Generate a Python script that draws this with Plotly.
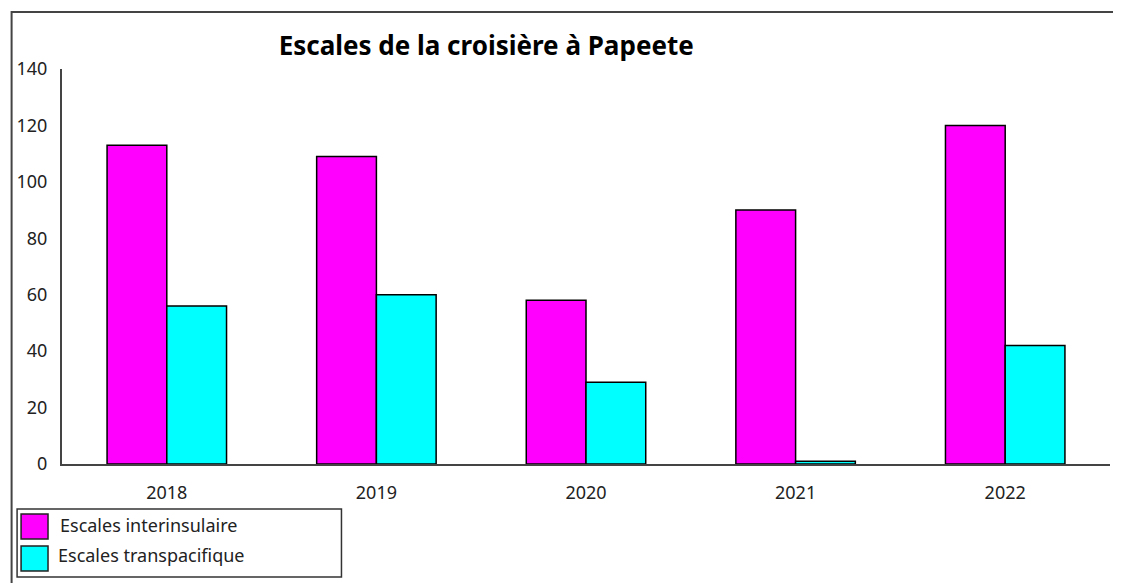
import plotly.graph_objects as go

years = ["2018", "2019", "2020", "2021", "2022"]
interinsulaire = [113, 109, 58, 90, 120]
transpacifique = [56, 60, 29, 1, 42]
series_names = ["Escales interinsulaire", "Escales transpacifique"]
y_ticks = [0, 20, 40, 60, 80, 100, 120, 140]
title_text = "Escales de la croisière à Papeete"

# page body has a margin: the figure is drawn shifted right and down
OFFX, OFFY = 10, 8
W, H = 1121 - OFFX, 583 - OFFY
L, T = 62 - OFFX, 69 - OFFY
R = W - (1112 - OFFX)
B = H - (464 - OFFY)
PW, PH = W - L - R, H - T - B


def px(x):
    return (x - OFFX - L) / PW


def py(y):
    return (H - B - (y - OFFY)) / PH


MAG = "#FF00FF"
CYA = "#00FFFF"
FONT = "Noto Sans"

fig = go.Figure()
fig.add_trace(go.Bar(x=years, y=interinsulaire, name=series_names[0],
                     marker=dict(color=MAG, line=dict(color="black", width=1.5)),
                     showlegend=False))
fig.add_trace(go.Bar(x=years, y=transpacifique, name=series_names[1],
                     marker=dict(color=CYA, line=dict(color="black", width=1.5)),
                     showlegend=False))

shapes = [
    # outer frame (left edge kept just inside the figure so it is not clipped)
    dict(type="rect", xref="paper", yref="paper", x0=(1.5 - L) / PW, x1=px(1140),
         y0=py(12), y1=py(620), line=dict(color="#444444", width=2)),
    # legend box
    dict(type="rect", xref="paper", yref="paper", x0=px(17), x1=px(342),
         y0=py(509), y1=py(577), line=dict(color="#333333", width=1.5)),
    dict(type="rect", xref="paper", yref="paper", x0=px(21), x1=px(48),
         y0=py(514), y1=py(539), fillcolor=MAG, line=dict(color="#222222", width=1.5)),
    dict(type="rect", xref="paper", yref="paper", x0=px(21), x1=px(48),
         y0=py(546), y1=py(571), fillcolor=CYA, line=dict(color="#222222", width=1.5)),
]
annotations = [
    dict(text=series_names[0], xref="paper", yref="paper", x=px(58), y=py(525),
         xanchor="left", yanchor="middle", showarrow=False,
         font=dict(family=FONT, size=18, color="#222222")),
    dict(text=series_names[1], xref="paper", yref="paper", x=px(56), y=py(555),
         xanchor="left", yanchor="middle", showarrow=False,
         font=dict(family=FONT, size=18, color="#222222")),
]

fig.update_layout(
    width=W, height=H,
    margin=dict(l=L, r=R, t=T, b=B),
    paper_bgcolor="white", plot_bgcolor="white",
    barmode="group", bargap=0.43, bargroupgap=0,
    title=dict(text="<b>" + title_text + "</b>", xref="paper", x=px(487),
               xanchor="center", yref="container", y=1 - (46 - OFFY) / H, yanchor="middle",
               font=dict(family=FONT, size=26, color="black")),
    xaxis=dict(showline=True, linecolor="#444444", linewidth=2, showgrid=False,
               ticks="", ticklabelstandoff=11,
               tickfont=dict(family=FONT, size=18, color="#222222")),
    yaxis=dict(range=[0, 140], tickvals=y_ticks, showline=True, linecolor="#444444",
               linewidth=2, showgrid=False, zeroline=False, ticks="",
               ticklabelstandoff=9,
               tickfont=dict(family=FONT, size=18, color="#222222")),
    shapes=shapes, annotations=annotations,
)

fig.write_html("out.html")
